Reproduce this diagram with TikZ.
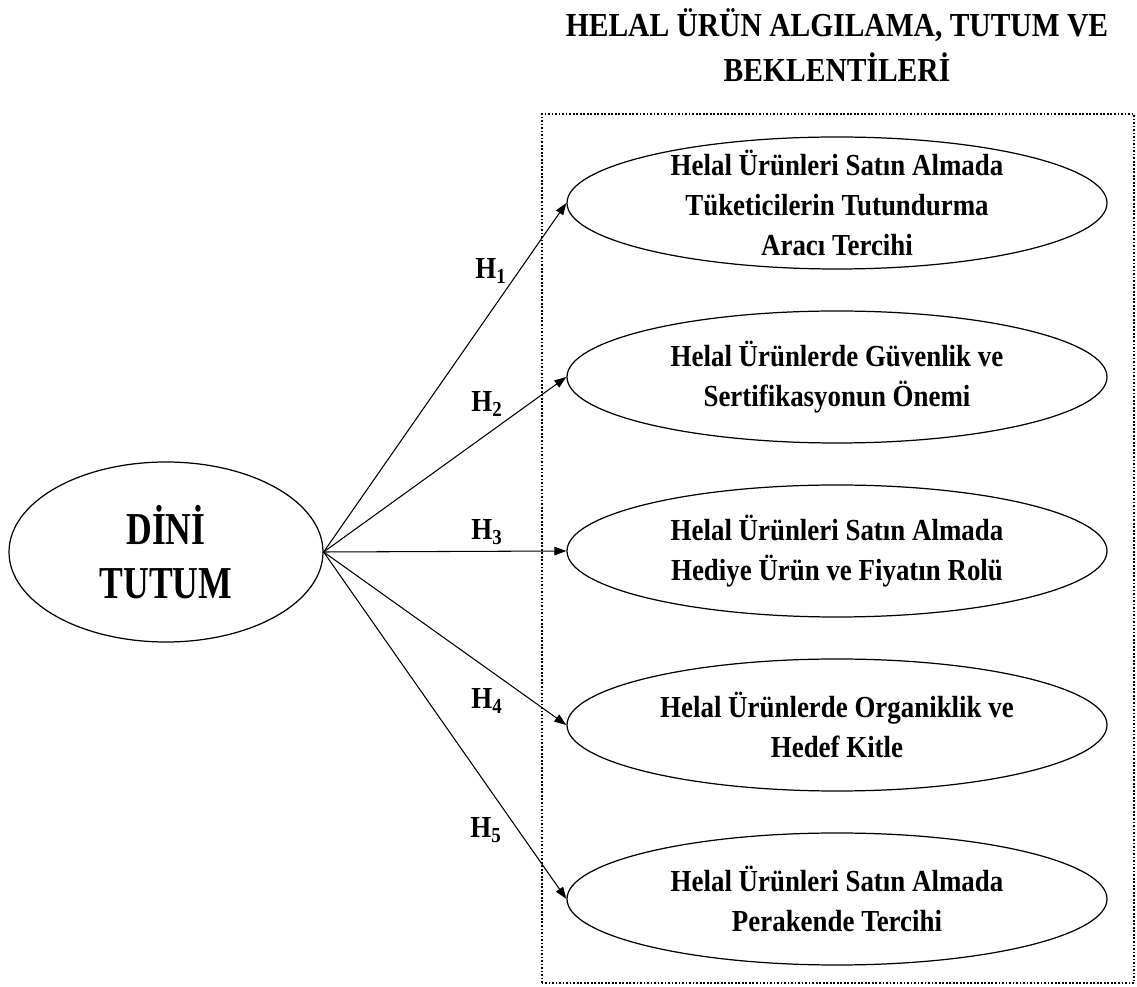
\documentclass[tikz,border=0pt]{standalone}
\usepackage{fontspec}
\newfontfamily\helalfont{Liberation Serif}[FakeStretch=0.88]
\newfontfamily\dinifont{Liberation Serif}[FakeStretch=0.78]
\usetikzlibrary{shapes}
\usetikzlibrary{arrows.meta}
\usetikzlibrary{positioning}

\tikzset{
  oval/.style={draw, ellipse, line width=0.7pt, inner sep=0pt, minimum width=10.8cm, minimum height=2.64cm},
  ovaltext/.style={align=center, font=\helalfont\bfseries\fontsize{17.4}{22.7}\selectfont},
  hyp/.style={font=\helalfont\bfseries\fontsize{17.4}{20}\selectfont},
  link/.style={line width=0.6pt, -{Triangle[length=0.24cm,width=0.17cm]}},
}

\begin{document}
\begin{tikzpicture}
\useasboundingbox (0,0) rectangle (22.74,19.74);

%title
\node[align=center, font=\helalfont\bfseries\fontsize{19.1}{26}\selectfont] (title) at (16.74,18.84) {HELAL ÜRÜN ALGILAMA, TUTUM VE\\BEKLENTİLERİ};

%dotted frame
\draw[densely dotted, line width=1pt] (10.84,0.08) rectangle (22.68,17.46);

%left ellipse
\node[oval, minimum width=6.28cm, minimum height=3.6cm, align=center, font=\dinifont\bfseries\fontsize{26}{31}\selectfont] (dini) at (3.32,8.70) {DİNİ\\TUTUM};

%right ellipses
\node[oval, label={[ovaltext]center:{Helal Ürünleri Satın Almada\\Tüketicilerin Tutundurma\\Aracı Tercihi}}] (e1) at (16.74,15.68) {};
\node[oval, label={[ovaltext]center:{Helal Ürünlerde Güvenlik ve\\Sertifikasyonun Önemi}}] (e2) at (16.74,12.20) {};
\node[oval, label={[ovaltext]center:{Helal Ürünleri Satın Almada\\Hediye Ürün ve Fiyatın Rolü}}] (e3) at (16.74,8.72) {};
\node[oval, label={[ovaltext]center:{Helal Ürünlerde Organiklik ve\\Hedef Kitle}}] (e4) at (16.74,5.24) {};
\node[oval, label={[ovaltext]center:{Helal Ürünleri Satın Almada\\Perakende Tercihi}}] (e5) at (16.74,1.76) {};

%arrows
\foreach \i in {1,...,5} {
\draw[link] (dini.east) -- (e\i.west);
}

%hypotheses
\node[hyp] (h1) at (9.82,14.32) {H\textsubscript{1}};
\node[hyp] (h2) at (9.74,11.66) {H\textsubscript{2}};
\node[hyp] (h3) at (9.74,9.10) {H\textsubscript{3}};
\node[hyp] (h4) at (9.74,5.72) {H\textsubscript{4}};
\node[hyp] (h5) at (9.72,3.14) {H\textsubscript{5}};

\end{tikzpicture}
\end{document}
